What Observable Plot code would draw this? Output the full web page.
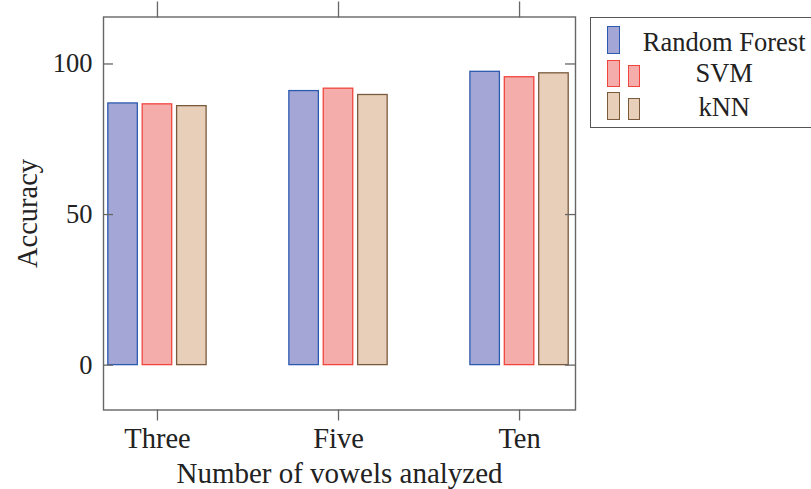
<!DOCTYPE html>
<html>
<head>
<meta charset="utf-8">
<script src="https://cdn.jsdelivr.net/npm/d3@7"></script>
<script src="https://cdn.jsdelivr.net/npm/@observablehq/plot@0.6"></script>
<style>
  html, body { margin: 0; padding: 0; background: #fff; overflow: hidden; }
  #wrap { position: relative; width: 811px; height: 489px; font-family: "Liberation Serif", "DejaVu Serif", serif; color: #222; }
  #legend { position: absolute; left: 589.5px; top: 16.5px; width: 240px; height: 111px; border: 1.3px solid #555; box-sizing: border-box; background: #fff; }
  .icon { position: absolute; box-sizing: border-box; border-width: 1.4px; border-style: solid; }
  .ltext { position: absolute; left: 0; width: 270px; text-align: center; font-size: 26.5px; line-height: 26px; }
</style>
</head>
<body>
<div id="wrap">
  <div id="chart"></div>
  <div id="legend"></div>
</div>
<script>
const categories = ["Three", "Five", "Ten"];
const series = ["Random Forest", "SVM", "kNN"];
const rfValues = [86.9, 91.0, 97.4];
const svmValues = [86.6, 91.8, 95.6];
const knnValues = [86.0, 89.7, 96.9];
const yTicks = [0, 50, 100];
const fills = ["#a4a7d5", "#f5adab", "#e7cfba"];
const strokes = ["#2c5ab0", "#f0453d", "#7a5a3c"];

const valuesBySeries = [rfValues, svmValues, knnValues];
const table = [];
categories.forEach((c, gi) => {
  series.forEach((s, si) => {
    table.push({ category: c, gi, series: s, si, value: valuesBySeries[si][gi] });
  });
});

const step = 0.19, barW = 0.163;
const tickStroke = "#666";

const chart = Plot.plot({
  width: 811,
  height: 489,
  marginLeft: 103,
  marginRight: 236,
  marginTop: 16.5,
  marginBottom: 79.5,
  style: { fontFamily: "Liberation Serif, DejaVu Serif, serif", fontSize: "26px", color: "#222", background: "#fff" },
  x: { domain: [-0.298, 2.309] },
  y: { domain: [-14.9, 115.6] },
  color: { type: "identity" },
  marks: [
    Plot.rectY(table, {
      x1: d => d.gi + (d.si - 1) * step - barW / 2,
      x2: d => d.gi + (d.si - 1) * step + barW / 2,
      y1: 0,
      y2: "value",
      fill: d => fills[d.si],
      stroke: d => strokes[d.si],
      strokeWidth: 1.3
    }),
    Plot.frame({ stroke: tickStroke, strokeWidth: 1.4 }),
    Plot.axisX({ anchor: "bottom", ticks: categories.map((c, i) => i), tickFormat: i => categories[i], tickSize: 11, tickPadding: 7, fontSize: 28.5, stroke: tickStroke, strokeWidth: 1.3, label: null, fill: "#222" }),
    Plot.axisX({ anchor: "top", ticks: categories.map((c, i) => i), tickFormat: () => "", tickSize: 16, stroke: tickStroke, strokeWidth: 1.3, label: null }),
    Plot.axisY({ anchor: "left", ticks: yTicks, tickSize: 0, tickPadding: 11, fontSize: 26.5, label: null, fill: "#222" }),
    Plot.axisY({ anchor: "left", ticks: yTicks, tickSize: -10, tickFormat: () => "", stroke: tickStroke, strokeWidth: 1.3, label: null }),
    Plot.axisY({ anchor: "right", ticks: yTicks, tickSize: -11, tickFormat: () => "", stroke: tickStroke, strokeWidth: 1.3, label: null }),
    Plot.text(["Accuracy"], { frameAnchor: "left", dx: -76, rotate: -90, text: d => d, fontSize: 28.5, lineAnchor: "middle", textAnchor: "middle", fill: "#222" }),
    Plot.text(["Number of vowels analyzed"], { frameAnchor: "bottom", dy: 63.5, text: d => d, fontSize: 29, lineAnchor: "middle", textAnchor: "middle", fill: "#222" })
  ]
});
document.getElementById("chart").appendChild(chart);

// Legend (pgfplots-style ybar legend)
const legend = document.getElementById("legend");
const L0 = 589.5, T0 = 16.5;
const rows = [
  { icons: [[607.7, 26, 12.3, 28]], baseline: 50 },
  { icons: [[607.7, 60, 12.3, 27], [628, 65, 12, 22]], baseline: 81.7 },
  { icons: [[607.7, 92, 12.3, 28], [628, 98, 12, 22]], baseline: 115 }
];
rows.forEach((r, i) => {
  r.icons.forEach(([x, y, w, h]) => {
    const d = document.createElement("div");
    d.className = "icon";
    d.style.left = (x - L0 - 1.3) + "px";
    d.style.top = (y - T0 - 1.3) + "px";
    d.style.width = w + "px";
    d.style.height = h + "px";
    d.style.background = fills[i];
    d.style.borderColor = strokes[i];
    legend.appendChild(d);
  });
  const t = document.createElement("div");
  t.className = "ltext";
  t.textContent = series[i];
  t.style.left = (724.5 - L0 - 1.3 - 135) + "px";
  t.style.top = (r.baseline - T0 - 1.3 - 21) + "px";
  legend.appendChild(t);
});
</script>
</body>
</html>
